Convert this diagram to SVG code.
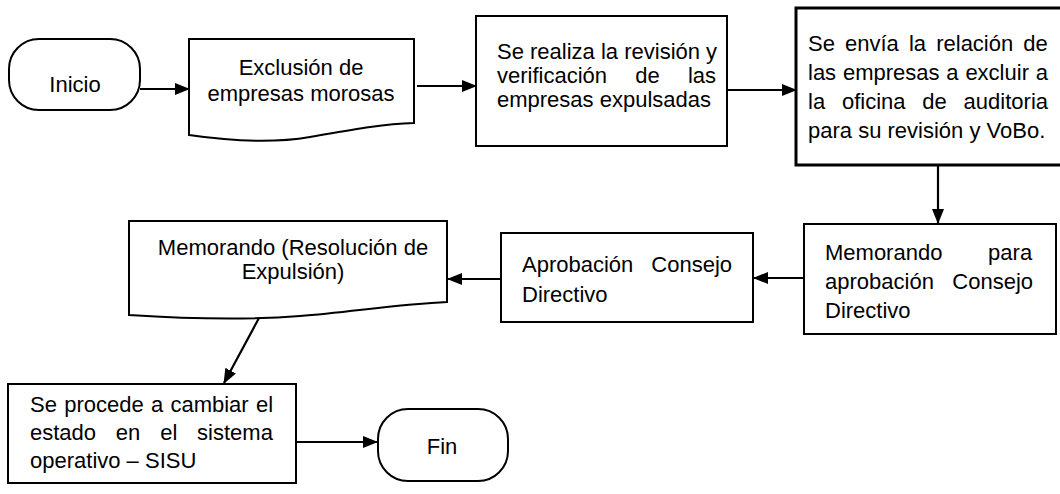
<svg xmlns="http://www.w3.org/2000/svg" width="1060" height="494" viewBox="0 0 1060 494">
<defs>
<style>
.shape{fill:#fff;stroke:#000;stroke-width:2}
.thick{stroke-width:3}
text{font-family:"Liberation Sans",Arial,sans-serif;font-size:22px;fill:#000}
.c{text-anchor:middle}
.conn line{stroke:#000;stroke-width:2.2;marker-end:url(#ah)}
</style>
<marker id="ah" markerUnits="userSpaceOnUse" markerWidth="15" markerHeight="12" refX="14" refY="6" orient="auto">
<path d="M0,0 L15,6 L0,12 Z" fill="#000"/>
</marker>
</defs>
<rect width="1060" height="494" fill="#fff"/>

<g id="inicio">
<rect class="shape" x="9" y="39" width="131" height="71" rx="30" ry="30"/>
<text class="c" x="75" y="92">Inicio</text>
</g>

<g id="exclusion">
<path class="shape" d="M189,39 H414 V123 C380,124 350,130 310,137 C270,144 230,141 189,135 Z"/>
<text class="c" x="301" y="75">Exclusión de</text>
<text class="c" x="301" y="101">empresas morosas</text>
</g>

<g id="revision">
<rect class="shape" x="476" y="16" width="251" height="130"/>
<text x="497" y="59">Se realiza la revisión y</text>
<text x="497" y="83" word-spacing="22.1">verificación de las</text>
<text x="497" y="107">empresas expulsadas</text>
</g>

<g id="envio">
<rect class="shape thick" x="796" y="8" width="266" height="157"/>
<text x="808" y="51" word-spacing="4">Se envía la relación de</text>
<text x="808" y="80" word-spacing="0.7">las empresas a excluir a</text>
<text x="808" y="109" word-spacing="10.7">la oficina de auditoria</text>
<text x="808" y="138">para su revisión y VoBo.</text>
</g>

<g id="memo-para">
<rect class="shape" x="804" y="224" width="252" height="110"/>
<text x="825" y="260" word-spacing="39.6">Memorando para</text>
<text x="825" y="289" word-spacing="12.4">aprobación Consejo</text>
<text x="825" y="318">Directivo</text>
</g>

<g id="aprobacion">
<rect class="shape" x="501" y="233" width="252" height="89"/>
<text x="522" y="272" word-spacing="11.9">Aprobación Consejo</text>
<text x="522" y="302">Directivo</text>
</g>

<g id="memo-resolucion">
<path class="shape" d="M129,221 H447 V302 C400,304 350,312 300,316 C250,320 190,319 129,315 Z"/>
<text class="c" x="293" y="255">Memorando (Resolución de</text>
<text class="c" x="293" y="279">Expulsión)</text>
</g>

<g id="cambio-estado">
<rect class="shape" x="8" y="384" width="288" height="99"/>
<text x="30" y="412" word-spacing="1.15">Se procede a cambiar el</text>
<text x="30" y="440" word-spacing="13.7">estado en el sistema</text>
<text x="30" y="468">operativo – SISU</text>
</g>

<g id="fin">
<rect class="shape" x="378" y="409" width="130" height="72" rx="30" ry="30"/>
<text class="c" x="442" y="454">Fin</text>
</g>

<g id="connectors" class="conn">
<line x1="140" y1="89" x2="189" y2="89"/>
<line x1="417" y1="86" x2="476" y2="86"/>
<line x1="727" y1="90" x2="796" y2="90"/>
<line x1="938" y1="166" x2="938" y2="223"/>
<line x1="804" y1="278" x2="754" y2="278"/>
<line x1="501" y1="279" x2="448" y2="279"/>
<line x1="259" y1="318" x2="224" y2="383"/>
<line x1="296" y1="442" x2="377" y2="442"/>
</g>
</svg>
